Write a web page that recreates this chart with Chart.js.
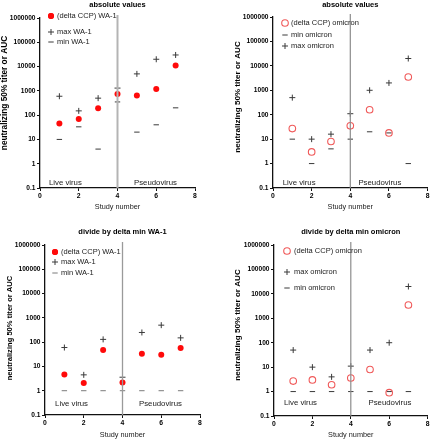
<!DOCTYPE html>
<html><head><meta charset="utf-8">
<script src="https://cdn.jsdelivr.net/npm/chart.js@4/dist/chart.umd.min.js"></script>
<style>
html,body{margin:0;padding:0;background:#fff}
body{width:432px;height:440px;position:relative;overflow:hidden}
canvas{position:absolute}
</style>
</head><body>
<canvas id="c1" width="216" height="220" style="left:0;top:0"></canvas>
<canvas id="c2" width="216" height="220" style="left:216px;top:0"></canvas>
<canvas id="c3" width="216" height="220" style="left:0;top:220px"></canvas>
<canvas id="c4" width="216" height="220" style="left:216px;top:220px"></canvas>
<script>
// ---- data ----
const studyNumbers = [1, 2, 3, 4, 5, 6, 7];
const yTickValues = [0.1, 1, 10, 100, 1000, 10000, 100000, 1000000];
const xTickValues = [0, 2, 4, 6, 8];

// absolute values, WA-1
const absCcpWA1 = [45, 70, 190, 750, 650, 1200, 11000];
const absMaxWA1 = [600, 150, 500, 1300, 5000, 20000, 30000];
const absMinWA1 = [10, 33, 4, 350, 20, 40, 200];

// absolute values, omicron
const absCcpOmicron = [27, 3, 8, 35, 160, 18, 3500];
const absMinOmicron = [10, 1, 4, 10, 20, 18, 1];
const absMaxOmicron = [500, 10, 16, 110, 1000, 2000, 20000];

// divided by delta min, WA-1
const divCcpWA1 = [4.7, 2.1, 48, 2.2, 33, 30, 57];
const divMaxWA1 = [60, 4.5, 130, 3.6, 250, 500, 150];
const divMinWA1 = [1, 1, 1, 1, 1, 1, 1];

// divided by delta min, omicron
const divCcpOmicron = [2.7, 3, 1.9, 3.6, 8, 0.9, 3500];
const divMaxOmicron = [50, 10, 4, 11, 50, 100, 20000];
const divMinOmicron = [1, 1, 1, 1, 1, 1, 1];

// ---- helpers ----
const FONT = "'Liberation Sans', Arial, Helvetica, sans-serif";
const pts = (arr) => arr.map((v, i) => ({ x: studyNumbers[i], y: v }));

const styleFilled = { pointStyle: 'circle', pointRadius: 3, pointBackgroundColor: '#ff0a0a', pointBorderColor: '#ff0a0a', pointBorderWidth: 0 };
const styleOpen = { pointStyle: 'circle', pointRadius: 3.3, pointBackgroundColor: 'rgba(0,0,0,0)', pointBorderColor: '#f05a5a', pointBorderWidth: 1.1 };
const stylePlus = { pointStyle: 'cross', pointRadius: 3, pointBackgroundColor: '#3a3a3a', pointBorderColor: '#3a3a3a', pointBorderWidth: 1 };
const styleDash = { pointStyle: 'line', pointRadius: 2.7, pointBackgroundColor: '#3a3a3a', pointBorderColor: '#3a3a3a', pointBorderWidth: 1 };
const styleDashLight = { pointStyle: 'line', pointRadius: 2.7, pointBackgroundColor: '#7a7a7a', pointBorderColor: '#7a7a7a', pointBorderWidth: 1 };

function ds(label, arr, st) {
  return Object.assign({ label, data: pts(arr), showLine: false, pointHoverRadius: st.pointRadius }, st);
}

const decor = {
  id: 'decor',
  afterDraw(chart) {
    const o = chart.options.plugins.decor;
    const ctx = chart.ctx, a = chart.chartArea;
    const xs = chart.scales.x, ys = chart.scales.y;
    ctx.save();
    // vertical separator at x = 4
    const vx = xs.getPixelForValue(4);
    ctx.strokeStyle = o.sepColor; ctx.lineWidth = o.sepWidth;
    ctx.beginPath(); ctx.moveTo(vx, a.top - 3); ctx.lineTo(vx, a.bottom); ctx.stroke();
    // title
    ctx.fillStyle = '#000';
    ctx.font = 'bold 7.5px ' + FONT;
    ctx.textAlign = 'center'; ctx.textBaseline = 'middle';
    ctx.fillText(o.title, (a.left + a.right) / 2, o.titleY);
    // y title
    ctx.save();
    ctx.translate(o.yTitleX, o.yTitleY);
    ctx.rotate(-Math.PI / 2);
    ctx.font = 'bold ' + o.yTitleSize + 'px ' + FONT;
    ctx.fillText('neutralizing 50% titer or AUC', 0, 0);
    ctx.restore();
    // region labels
    ctx.font = '7.8px ' + FONT;
    ctx.fillStyle = '#1a1a1a';
    ctx.textAlign = 'left';
    const ly = ys.getPixelForValue(o.regionY);
    ctx.fillText('Live virus', xs.getPixelForValue(o.liveX), ly);
    ctx.fillText('Pseudovirus', xs.getPixelForValue(o.pseudoX), ly);
    // legend
    ctx.font = '7.5px ' + FONT;
    o.legend.forEach((e) => {
      const d = chart.data.datasets[e.ds];
      const mx = a.left + o.legendDx, my = a.top + e.dy;
      ctx.save();
      ctx.strokeStyle = d.pointBorderColor; ctx.fillStyle = d.pointBackgroundColor;
      ctx.lineWidth = d.pointBorderWidth || 1;
      Chart.helpers.drawPoint(ctx, { pointStyle: d.pointStyle, radius: d.pointRadius, borderWidth: d.pointBorderWidth, rotation: 0 }, mx, my);
      if (d.pointStyle === 'circle' && d.pointBorderWidth === 0) {
        ctx.beginPath(); ctx.arc(mx, my, d.pointRadius, 0, Math.PI * 2); ctx.fill();
      }
      ctx.restore();
      ctx.fillStyle = '#1a1a1a';
      ctx.fillText(d.label, a.left + o.legendTextDx, my);
    });
    ctx.restore();
  }
};

function makeChart(id, datasets, p) {
  new Chart(document.getElementById(id), {
    type: 'scatter',
    data: { datasets },
    plugins: [decor],
    options: {
      responsive: false,
      animation: false,
      events: [],
      layout: { padding: { left: 0, top: p.top, right: p.right, bottom: 0 } },
      plugins: {
        legend: { display: false },
        tooltip: { enabled: false },
        title: { display: false },
        decor: p.decor
      },
      scales: {
        x: {
          type: 'linear', min: 0, max: 8,
          afterBuildTicks: (s) => { s.ticks = xTickValues.map(v => ({ value: v })); },
          afterFit: (s) => { s.height = p.xHeight; },
          grid: { display: true, drawOnChartArea: false, drawTicks: true, tickLength: 3, color: '#111', lineWidth: 1 },
          border: { display: true, color: '#111', width: 1.3 },
          ticks: { color: '#000', padding: 1, font: { family: FONT, size: 6.8, weight: 'bold' }, maxRotation: 0, callback: (v) => String(v) },
          title: { display: true, text: 'Study number', color: '#1a1a1a', font: { family: FONT, size: 7.3 }, padding: { top: 0, bottom: p.xTitlePad } }
        },
        y: {
          type: 'logarithmic', min: 0.1, max: 1000000,
          afterBuildTicks: (s) => { s.ticks = yTickValues.map(v => ({ value: v })); },
          afterFit: (s) => { s.width = p.left; },
          grid: { display: true, drawOnChartArea: false, drawTicks: true, tickLength: 3, color: '#111', lineWidth: 1 },
          border: { display: true, color: '#111', width: 1.3 },
          ticks: { color: '#000', padding: 1.5, font: { family: FONT, size: 6.6, weight: 'bold' }, callback: (v) => String(v) },
          title: { display: false }
        }
      }
    }
  });
}

makeChart('c1', [
  ds('(delta CCP) WA-1', absCcpWA1, styleFilled),
  ds('max WA-1', absMaxWA1, stylePlus),
  ds('min WA-1', absMinWA1, styleDash)
], { left: 40, top: 18, right: 21, xHeight: 32, xTitlePad: 8.5,
  decor: { title: 'absolute values', titleY: 4.5, yTitleX: 5, yTitleY: 93, yTitleSize: 8.3,
    sepColor: '#b4b4b4', sepWidth: 2, regionY: 0.16, liveX: 0.46, pseudoX: 4.85,
    legendDx: 11, legendTextDx: 17, legend: [{ ds: 0, dy: -2 }, { ds: 1, dy: 14 }, { ds: 2, dy: 24 }] } });

makeChart('c2', [
  ds('(delta CCP) omicron', absCcpOmicron, styleOpen),
  ds('min omicron', absMinOmicron, styleDash),
  ds('max omicron', absMaxOmicron, stylePlus)
], { left: 57, top: 17, right: 4, xHeight: 32, xTitlePad: 8.5,
  decor: { title: 'absolute values', titleY: 4.5, yTitleX: 22, yTitleY: 97, yTitleSize: 8.1,
    sepColor: '#8c8c8c', sepWidth: 1.2, regionY: 0.16, liveX: 0.5, pseudoX: 4.42,
    legendDx: 12, legendTextDx: 18, legend: [{ ds: 0, dy: 6 }, { ds: 1, dy: 18 }, { ds: 2, dy: 29 }] } });

makeChart('c3', [
  ds('(delta CCP) WA-1', divCcpWA1, styleFilled),
  ds('max WA-1', divMaxWA1, stylePlus),
  ds('min WA-1', divMinWA1, styleDashLight)
], { left: 45, top: 25, right: 16, xHeight: 25, xTitlePad: 1,
  decor: { title: 'divide by delta min WA-1', titleY: 11.7, yTitleX: 10, yTitleY: 108, yTitleSize: 7.6,
    sepColor: '#9a9a9a', sepWidth: 1.3, regionY: 0.29, liveX: 0.52, pseudoX: 4.85,
    legendDx: 10, legendTextDx: 16, legend: [{ ds: 0, dy: 7 }, { ds: 1, dy: 17 }, { ds: 2, dy: 28 }] } });

makeChart('c4', [
  ds('(delta CCP) omicron', divCcpOmicron, styleOpen),
  ds('max omicron', divMaxOmicron, stylePlus),
  ds('min omicron', divMinOmicron, styleDash)
], { left: 58, top: 25, right: 4, xHeight: 24, xTitlePad: 0.5,
  decor: { title: 'divide by delta min omicron', titleY: 11.7, yTitleX: 22, yTitleY: 105, yTitleSize: 8.1,
    sepColor: '#8c8c8c', sepWidth: 1.2, regionY: 0.34, liveX: 0.52, pseudoX: 4.92,
    legendDx: 13, legendTextDx: 20, legend: [{ ds: 0, dy: 6 }, { ds: 1, dy: 27 }, { ds: 2, dy: 43 }] } });
</script>
</body></html>
